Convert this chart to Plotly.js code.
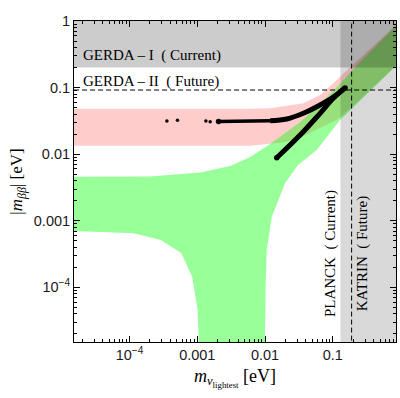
<!DOCTYPE html>
<html>
<head>
<meta charset="utf-8">
<script src="https://cdn.plot.ly/plotly-3.0.1.min.js"></script>
<style>
html, body { margin: 0; padding: 0; background: #fff; }
#plot { width: 400px; height: 398px; }
</style>
</head>
<body>
<div id="plot"></div>
<script>
// normal ordering band (green), eV
const noTopX = [1e-5, 1.53e-5, 2.02e-4, 0.0011, 0.00306, 0.00603, 0.0119, 0.033, 0.065, 0.128, 0.253, 0.86, 1];
const noTopY = [0.0046, 0.00459, 0.00462, 0.00531, 0.00665, 0.00908, 0.0142, 0.0304, 0.0567, 0.113, 0.242, 0.84, 0.98];
// right edge of the cancellation funnel, top -> bottom
const noRightX = [1, 0.86, 0.128, 0.058, 0.0307, 0.0198, 0.0158, 0.0126, 0.0106, 0.0102, 0.01, 0.01];
const noRightY = [0.245, 0.211, 0.0326, 0.01156, 0.00689, 0.0037, 0.00205, 0.00115, 3.65e-4, 1e-4, 1.8e-5, 1e-6];
// left edge of the funnel, bottom -> left axis
const noLeftX = [0.00105, 0.00105, 0.00101, 0.00092, 0.00084, 0.00058, 2.9e-4, 1.15e-4, 1.53e-5, 1e-5];
const noLeftY = [1e-6, 1.8e-5, 4.58e-5, 8.24e-5, 1.45e-4, 3.29e-4, 5.15e-4, 6.49e-4, 7.03e-4, 7.1e-4];

// inverted ordering band (pink)
const ioTopX = [1e-5, 0.006, 0.0119, 0.0368, 0.065, 0.102, 0.128, 0.86, 1];
const ioTopY = [0.0482, 0.0482, 0.049, 0.058, 0.0774, 0.116, 0.146, 0.87, 1.0];
const ioBottomX = [1e-5, 0.006, 0.0185, 0.033, 0.058, 0.116, 0.25, 0.86, 1];
const ioBottomY = [0.0134, 0.0134, 0.015, 0.0175, 0.0235, 0.033, 0.065, 0.215, 0.25];

// scan points (black)
const scanUpperX = [0.00206, 0.0043, 0.0119, 0.021, 0.0368, 0.065, 0.102, 0.152];
const scanUpperY = [0.031, 0.031, 0.0318, 0.0338, 0.0411, 0.0548, 0.072, 0.099];
const scanLowerX = [0.0149, 0.0368, 0.065, 0.102, 0.152];
const scanLowerY = [0.00886, 0.0218, 0.0411, 0.069, 0.099];
const scanDotsX = [0.000356, 0.00051, 0.00134, 0.00155];
const scanDotsY = [0.0315, 0.0323, 0.0315, 0.0308];

// experimental limits
const gerdaI = 0.2;
const gerdaII = 0.092;
const planck = 0.13;
const katrin = 0.19;

const xTickVals = [1e-4, 1e-3, 1e-2, 0.1];
const xTickText = ['10<sup>\u22124</sup>', '0.001', '0.01', '0.1'];
const yTickVals = [1e-4, 1e-3, 1e-2, 0.1, 1];
const yTickText = ['10<sup>\u22124</sup>', '0.001', '0.01', '0.1', '1'];

const minorVals = [];
for (let k = -6; k <= 0; k++) {
    for (let j = 2; j <= 9; j++) minorVals.push(j * Math.pow(10, k));
}

const far = [1e-6, 10];
const thin = 3; // first points of the upper scan branch are sparser

const upperThick = {x: scanUpperX.slice(thin - 1), y: scanUpperY.slice(thin - 1)};
const last = a => a[a.length - 1];

const data = [
    {
        x: ioTopX.concat(ioBottomX.slice().reverse()),
        y: ioTopY.concat(ioBottomY.slice().reverse()),
        mode: 'none', fill: 'toself', fillcolor: 'rgba(255,0,0,0.2)', hoverinfo: 'skip'
    },
    {
        x: noTopX.concat(noRightX, noLeftX),
        y: noTopY.concat(noRightY, noLeftY),
        mode: 'none', fill: 'toself', fillcolor: 'rgba(0,255,0,0.4)', hoverinfo: 'skip'
    },
    {
        x: [far[0], far[1], far[1], far[0]],
        y: [gerdaI, gerdaI, far[1], far[1]],
        mode: 'none', fill: 'toself', fillcolor: 'rgba(0,0,0,0.2)', hoverinfo: 'skip'
    },
    {
        x: [planck, far[1], far[1], planck],
        y: [far[0], far[0], far[1], far[1]],
        mode: 'none', fill: 'toself', fillcolor: 'rgba(0,0,0,0.15)', hoverinfo: 'skip'
    },
    {
        x: far, y: [gerdaII, gerdaII],
        mode: 'lines', line: {color: 'black', width: 1, dash: '5px,3px'}
    },
    {
        x: [katrin, katrin], y: far,
        mode: 'lines', line: {color: 'black', width: 1, dash: '5px,3px'}
    },
    {
        x: scanUpperX.slice(0, thin), y: scanUpperY.slice(0, thin),
        mode: 'lines', line: {color: 'black', width: 3.5}
    },
    {
        x: upperThick.x, y: upperThick.y,
        mode: 'lines', line: {color: 'black', width: 5, shape: 'spline'}
    },
    {
        x: scanLowerX, y: scanLowerY,
        mode: 'lines', line: {color: 'black', width: 5, shape: 'spline'}
    },
    {
        // round ends of the branches
        x: [scanUpperX[0], scanLowerX[0], last(scanLowerX)],
        y: [scanUpperY[0], scanLowerY[0], last(scanLowerY)],
        mode: 'markers', marker: {color: 'black', size: 5.5, line: {width: 0}}
    },
    {
        x: scanDotsX, y: scanDotsY,
        mode: 'markers', marker: {color: 'black', size: 3.5, line: {width: 0}}
    }
];

const axisCommon = {
    type: 'log',
    showgrid: false,
    zeroline: false,
    showline: true,
    linecolor: 'black',
    linewidth: 1,
    mirror: 'allticks',
    ticks: 'inside',
    ticklen: 6,
    tickwidth: 1,
    tickcolor: 'black',
    tickmode: 'array',
    tickfont: {family: 'Liberation Sans', size: 14.5, color: '#1a1a1a'},
    minor: {tickmode: 'array', tickvals: minorVals, ticks: 'inside', ticklen: 3, tickwidth: 1, tickcolor: 'black'}
};

const layout = {
    width: 400,
    height: 398,
    margin: {l: 74, r: 4, t: 21, b: 56},
    paper_bgcolor: 'white',
    plot_bgcolor: 'white',
    showlegend: false,
    xaxis: Object.assign({}, axisCommon, {
        range: [-4.82, -0.066],
        tickvals: xTickVals,
        ticktext: xTickText,
        title: {
            text: '<i>m</i><sub><i>\u03bd</i><sub>lightest</sub></sub> [eV]',
            font: {family: 'Liberation Serif', size: 18, color: 'black'},
            standoff: 6
        }
    }),
    yaxis: Object.assign({}, axisCommon, {
        range: [-4.82, 0],
        tickvals: yTickVals,
        ticktext: yTickText,
        title: {
            text: '|<i>m</i><sub><i>\u03b2\u03b2</i></sub>| [eV]',
            font: {family: 'Liberation Serif', size: 17, color: 'black'},
            standoff: 6
        }
    }),
    annotations: [
        {text: 'GERDA \u2013 I  ( Current)', xref: 'paper', yref: 'paper', x: 0.022, y: 0.894,
         xanchor: 'left', yanchor: 'middle', showarrow: false,
         font: {family: 'Liberation Serif', size: 15, color: 'black'}},
        {text: 'GERDA \u2013 II  ( Future)', xref: 'paper', yref: 'paper', x: 0.022, y: 0.81,
         xanchor: 'left', yanchor: 'middle', showarrow: false,
         font: {family: 'Liberation Serif', size: 15, color: 'black'}},
        {text: 'PLANCK  ( Current)', xref: 'paper', yref: 'paper', x: 0.795, y: 0.277,
         xanchor: 'center', yanchor: 'middle', showarrow: false, textangle: -90,
         font: {family: 'Liberation Serif', size: 15, color: 'black'}},
        {text: 'KATRIN  ( Future)', xref: 'paper', yref: 'paper', x: 0.896, y: 0.275,
         xanchor: 'center', yanchor: 'middle', showarrow: false, textangle: -90,
         font: {family: 'Liberation Serif', size: 15, color: 'black'}}
    ]
};

Plotly.newPlot('plot', data, layout, {staticPlot: true});
</script>
</body>
</html>
